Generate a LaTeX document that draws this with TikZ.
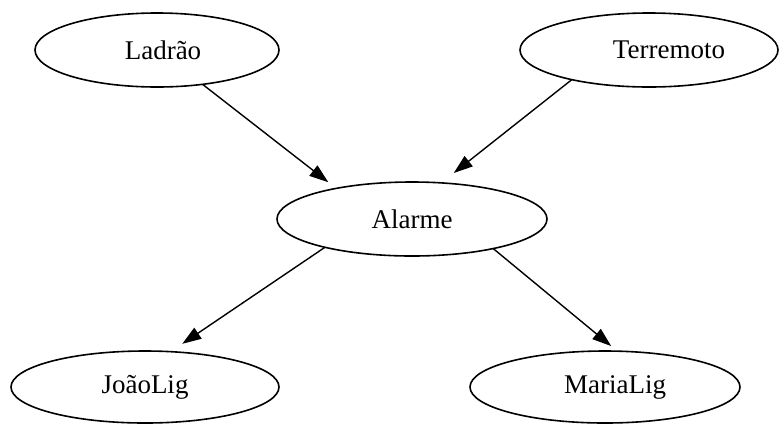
\documentclass[tikz,border=0pt]{standalone}
\usepackage{fontspec}
\setmainfont{Liberation Serif}
\usetikzlibrary{shapes.geometric,arrows.meta}
\tikzset{
  bnode/.style={draw, ellipse, inner sep=0pt, outer sep=0pt, line width=0.8pt,
    minimum height=37pt, font=\fontsize{13.5}{16}\selectfont},
  bedge/.style={line width=0.7pt, -{Triangle[length=9.5pt,width=6.5pt]}}
}
\begin{document}
\begin{tikzpicture}[x=0.5pt,y=-0.5pt]
\useasboundingbox (0,0) rectangle (780,424);
\node[bnode, minimum width=122pt] (lad) at (157,50) {\hspace*{6pt}Ladrão};
\node[bnode, minimum width=129pt] (ter) at (649,50) {\hspace*{20pt}Terremoto};
\node[bnode, minimum width=135pt] (ala) at (412,219) {Alarme};
\node[bnode, minimum width=134pt, minimum height=36pt] (joa) at (145,387) {JoãoLig};
\node[bnode, minimum width=135pt, minimum height=36pt] (mar) at (605,387) {\hspace*{10pt}MariaLig};
\draw[bedge, shorten >=5pt] (lad.-37) -- (ala.158);
\draw[bedge, shorten >=8pt] (ter.-159) -- (ala.51);
\draw[bedge, shorten >=7pt] (ala.-162) -- (joa.54);
\draw[bedge, shorten >=4pt] (ala.-20) -- (mar.71);
\end{tikzpicture}
\end{document}
